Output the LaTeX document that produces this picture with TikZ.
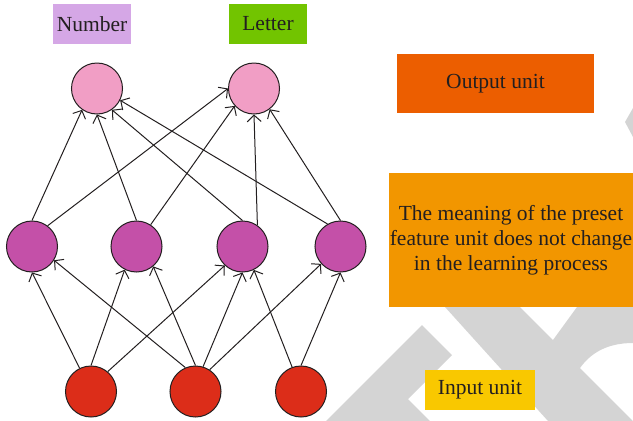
\documentclass[tikz,border=0pt]{standalone}
\usepackage{fontspec}
\setmainfont{Liberation Serif}
\usetikzlibrary{arrows.meta}

\definecolor{inkc}{HTML}{231F20}
\definecolor{markc}{HTML}{D4D4D4}
\definecolor{numberc}{HTML}{D5A7E6}
\definecolor{letterc}{HTML}{72C400}
\definecolor{outc}{HTML}{EC5E00}
\definecolor{meanc}{HTML}{F29600}
\definecolor{inc}{HTML}{F9C800}
\definecolor{outunit}{HTML}{F19EC5}
\definecolor{hidunit}{HTML}{C450A8}
\definecolor{inunit}{HTML}{DC2D19}

\tikzset{
  unit/.style={circle, draw=inkc, line width=1pt, minimum size=51pt, inner sep=0pt},
  label box/.style={rectangle, inner sep=0pt, text=inkc,
    font=\fontsize{21.5}{25}\selectfont, align=center},
  conn/.style={draw=inkc, line width=1pt,
    -{Straight Barb[length=6.5pt,width=14pt,line width=1pt]}},
}

\begin{document}
\begin{tikzpicture}[x=1pt,y=-1pt]
\useasboundingbox (0,0) rectangle (633,421);

% faint background mark
\fill[markc] (422,325) -- (452,355) -- (408,399) -- (430,421) -- (326,421) -- cycle;
\fill[markc] (445,307) -- (520,307) -- (553,340) -- (577,307) -- (633,307) -- (633,343)
  .. controls (606,343) and (590,354) .. (580,368) -- (633,421) -- (548,421) -- cycle;
\fill[markc] (633,108) -- (625,122) -- (633,137) -- cycle;

% legend boxes
\node[label box, fill=numberc, minimum width=78pt, minimum height=40pt] (lnum) at (92,24) {Number};
\node[label box, fill=letterc, minimum width=78pt, minimum height=40pt] (llet) at (268,24) {Letter};
\node[label box, fill=outc, minimum width=197pt, minimum height=59pt] (lout) at (495.5,83.5) {Output unit};
\node[label box, fill=meanc, minimum width=244pt, minimum height=134pt] (lmean) at (511,240)
  {The meaning of the preset\\feature unit does not change\\in the learning process};
\node[label box, fill=inc, minimum width=110pt, minimum height=40pt] (lin) at (480,390) {Input unit};

% units
\node[unit, fill=outunit] (o1) at (97,88.5) {};
\node[unit, fill=outunit] (o2) at (254,88.5) {};
\node[unit, fill=hidunit] (h1) at (32,246.5) {};
\node[unit, fill=hidunit] (h2) at (136.5,246.5) {};
\node[unit, fill=hidunit] (h3) at (242.5,246.5) {};
\node[unit, fill=hidunit] (h4) at (340.5,246.5) {};
\node[unit, fill=inunit] (i1) at (91,391.5) {};
\node[unit, fill=inunit] (i2) at (195.5,391.5) {};
\node[unit, fill=inunit] (i3) at (301,391.5) {};

% input -> feature units
\draw[conn] (i1.116) -- (h1.-90);
\draw[conn] (i1.90)  -- (h2.-117);
\draw[conn] (i1.50)  -- (h3.-133);
\draw[conn] (i2.113) -- (h1.-32);
\draw[conn] (i2.90)  -- (h2.-50);
\draw[conn] (i2.73)  -- (h3.-90);
\draw[conn] (i2.57)  -- (h4.-138);
\draw[conn] (i3.110) -- (h3.-64);
\draw[conn] (i3.90)  -- (h4.-90);

% feature units -> output units
\draw[conn] (h1.90)  -- (o1.-125);
\draw[conn] (h1.53)  -- (o2.180);
\draw[conn] (h2.90)  -- (o1.-90);
\draw[conn] (h2.57)  -- (o2.-138);
\draw[conn] (h3.90)  -- (o1.-55);
\draw[conn] (h3.55)  -- (o2.-90);
\draw[conn] (h4.120) -- (o1.-27);
\draw[conn] (h4.90)  -- (o2.-53);
\end{tikzpicture}
\end{document}
